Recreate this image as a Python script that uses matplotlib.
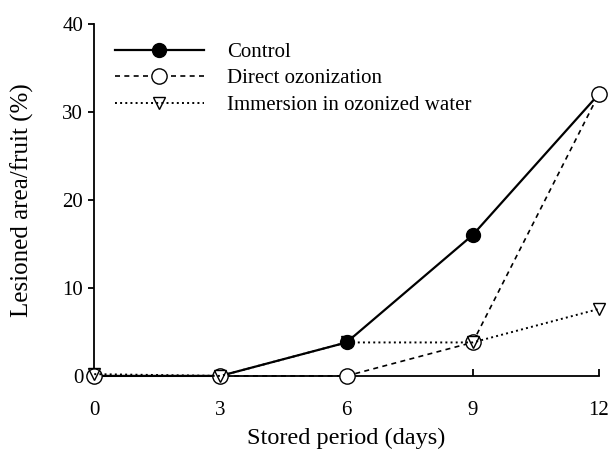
import matplotlib
matplotlib.use("Agg")
import matplotlib.pyplot as plt

days = [0, 3, 6, 9, 12]
control = [0, 0, 3.8, 16, 32]
direct = [0, 0, 0, 3.8, 32]
immersion = [0.2, 0, 3.8, 3.8, 7.6]

plt.rcParams['font.family'] = ['Liberation Serif', 'DejaVu Serif']
plt.rcParams['font.size'] = 15

fig = plt.figure(figsize=(6.08, 4.54), dpi=100)
ax = fig.add_axes([0.155, 0.172, 0.83, 0.776])

# control below, open circles on top of it, triangles last
ax.plot(days, control, '-', color='black', lw=1.6, marker='o', ms=10,
        mfc='black', mec='black', clip_on=False, label='Control', zorder=3)
ax.plot(days, direct, color='black', lw=1.2, dashes=(3, 2.6), marker='o', ms=11,
        mfc='white', mec='black', clip_on=False, label='Direct ozonization', zorder=4)
ax.plot(days, immersion, ':', color='black', lw=1.4, marker='v', ms=9,
        mfc='none', mec='black', clip_on=False, label='Immersion in ozonized water', zorder=5)

ax.set_xlim(0, 12)
ax.set_ylim(0, 40)
ax.set_xticks([0, 3, 6, 9, 12])
ax.set_yticks([0, 10, 20, 30, 40])
ax.spines['top'].set_visible(False)
ax.spines['right'].set_visible(False)
ax.spines['left'].set_linewidth(1.3)
ax.spines['bottom'].set_linewidth(1.3)
ax.tick_params(axis='x', direction='in', length=5, width=1.3, pad=18)
ax.tick_params(axis='y', direction='out', length=4, width=1.3, pad=4)

ax.set_xlabel('Stored period (days)', fontsize=17.5, labelpad=6)
ax.set_ylabel('Lesioned area/fruit (%)', fontsize=18, labelpad=20)

ax.legend(loc='upper left', frameon=False, handlelength=4.3, handletextpad=1.1,
          bbox_to_anchor=(0.003, 1.0), labelspacing=0.33)

plt.savefig('out.png', dpi=100)
